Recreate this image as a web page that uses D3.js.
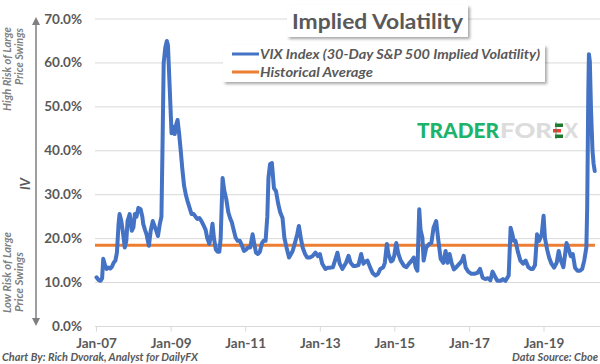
<!DOCTYPE html>
<html><head><meta charset="utf-8">
<script src="https://cdn.jsdelivr.net/npm/d3@7"></script>
<style>
html,body{margin:0;padding:0;background:#fff;}
svg{display:block;font-family:Lato,"Open Sans",sans-serif;}
</style></head>
<body><svg id="c" width="600" height="364"></svg>
<script>
const dates = ["2007-01-01","2007-01-20","2007-02-10","2007-02-25","2007-03-08","2007-03-25","2007-04-10","2007-04-28","2007-05-15","2007-06-01","2007-06-18","2007-07-05","2007-07-20","2007-08-05","2007-08-15","2007-09-01","2007-09-15","2007-10-05","2007-10-20","2007-11-01","2007-11-22","2007-12-12","2007-12-28",
"2008-01-12","2008-01-28","2008-02-15","2008-03-08","2008-03-25","2008-04-03","2008-04-20","2008-05-05","2008-05-28","2008-06-15","2008-07-05","2008-07-20","2008-08-08","2008-08-25","2008-09-12","2008-09-28","2008-10-08","2008-10-20","2008-11-05","2008-11-20","2008-12-01","2008-12-15",
"2009-01-05","2009-01-20","2009-02-05","2009-02-20","2009-03-05","2009-03-20","2009-04-05","2009-04-20","2009-05-08","2009-05-25","2009-06-10","2009-07-01","2009-07-20","2009-08-10","2009-08-28","2009-09-15","2009-10-05","2009-10-25","2009-11-15","2009-12-05","2009-12-20",
"2010-01-10","2010-01-28","2010-02-10","2010-02-25","2010-03-15","2010-04-01","2010-04-18","2010-05-01","2010-05-20","2010-06-05","2010-06-25","2010-07-15","2010-08-01","2010-08-20","2010-09-05","2010-09-25","2010-10-15","2010-11-05","2010-11-25","2010-12-15",
"2011-01-05","2011-01-25","2011-02-15","2011-03-10","2011-03-25","2011-04-12","2011-05-01","2011-05-20","2011-06-10","2011-06-25","2011-07-15","2011-08-01","2011-08-12","2011-08-28","2011-09-15","2011-10-05","2011-10-25","2011-11-15","2011-12-05","2011-12-28",
"2012-01-15","2012-02-05","2012-03-01","2012-03-20","2012-04-05","2012-04-25","2012-05-20","2012-06-05","2012-06-25","2012-07-12","2012-08-05","2012-08-25","2012-09-20","2012-10-15","2012-11-15","2012-12-10","2012-12-28",
"2013-01-20","2013-02-20","2013-03-15","2013-04-10","2013-05-05","2013-06-18","2013-07-10","2013-08-05","2013-09-10","2013-10-05","2013-10-25","2013-11-20","2013-12-15",
"2014-01-10","2014-02-05","2014-02-28","2014-03-20","2014-04-08","2014-05-05","2014-05-28","2014-06-25","2014-07-20","2014-08-12","2014-09-10","2014-09-25","2014-10-15","2014-10-30","2014-11-25","2014-12-10","2014-12-25",
"2015-01-15","2015-02-05","2015-02-28","2015-04-01","2015-04-25","2015-05-20","2015-06-15","2015-07-05","2015-07-25","2015-08-10","2015-08-28","2015-09-10","2015-09-28","2015-10-10","2015-11-05","2015-12-05","2015-12-25",
"2016-01-15","2016-02-10","2016-02-28","2016-03-25","2016-04-20","2016-05-12","2016-06-01","2016-06-20","2016-07-10","2016-08-01","2016-08-25","2016-09-25","2016-10-20","2016-11-05","2016-11-25","2016-12-20",
"2017-01-20","2017-02-20","2017-03-20","2017-04-15","2017-05-10","2017-06-05","2017-07-01","2017-07-25","2017-08-15","2017-09-05","2017-10-01","2017-11-01","2017-11-25","2017-12-20",
"2018-01-20","2018-02-08","2018-02-25","2018-03-10","2018-03-28","2018-04-20","2018-05-15","2018-06-10","2018-07-05","2018-08-01","2018-08-25","2018-09-15","2018-10-05","2018-10-25","2018-11-15","2018-12-10","2018-12-28",
"2019-01-10","2019-02-01","2019-02-20","2019-03-15","2019-04-10","2019-05-05","2019-05-25","2019-06-15","2019-07-10","2019-08-10","2019-09-01","2019-09-20","2019-10-10","2019-11-01","2019-11-25","2019-12-20",
"2020-01-10","2020-01-30","2020-02-20","2020-02-28","2020-03-10","2020-03-16","2020-03-25","2020-04-05","2020-04-20","2020-05-01","2020-05-12"];

const vix = [11.2,10.6,10.4,11.0,15.4,14.0,13.1,13.4,13.2,13.6,14.5,15.0,16.8,23.3,25.6,24.0,21.8,18.0,19.5,24.0,25.6,21.8,22.5,
25.6,25.0,27.0,26.7,25.0,23.3,22.0,21.0,18.4,21.8,24.0,23.0,21.8,20.6,23.3,25.0,40.0,60.0,63.5,65.0,64.0,56.0,
44.0,45.5,43.8,46.0,47.0,44.0,40.0,36.0,32.0,30.0,28.6,27.0,25.6,25.6,25.0,24.5,24.7,24.0,23.0,22.0,20.2,
18.8,21.0,23.4,20.0,17.5,17.0,17.0,20.0,33.8,31.0,29.0,26.0,24.7,23.6,22.0,20.2,19.5,19.5,18.5,17.2,
17.5,18.0,18.0,21.0,19.0,16.8,16.5,17.0,19.0,19.5,19.5,25.0,33.8,37.0,37.2,31.5,30.8,28.0,26.0,24.7,
20.2,18.0,15.7,16.5,17.2,18.8,21.0,22.9,20.0,18.0,16.5,15.7,15.7,16.0,16.8,16.0,16.5,
14.3,13.1,13.4,13.4,13.5,16.8,14.3,13.1,14.5,16.1,14.5,13.8,13.8,
14.0,16.5,14.3,14.8,15.0,13.4,12.2,11.6,12.0,13.1,13.5,14.5,18.8,16.5,14.8,15.0,16.0,
19.0,16.5,15.0,13.8,13.5,14.3,15.0,15.7,13.4,12.7,26.7,22.0,20.2,15.0,18.0,18.8,19.0,
22.5,24.0,20.2,15.4,14.5,17.2,14.5,16.5,14.5,13.0,13.5,14.3,15.0,16.1,13.4,12.5,
12.0,12.0,12.2,13.1,11.1,10.8,11.0,10.5,12.5,11.5,10.4,10.4,10.8,10.4,
11.6,22.5,21.0,19.5,19.5,17.0,15.0,14.3,15.0,13.5,13.1,13.1,14.0,21.0,19.5,21.0,25.2,
20.2,17.5,15.7,14.3,13.4,14.5,17.2,15.0,13.5,19.0,17.5,16.0,16.5,13.4,12.7,12.7,
13.1,15.0,18.0,27.0,53.5,62.0,60.3,49.7,40.0,37.0,35.4];

const historicalAverage = 18.5;
const yTicks = [0,10,20,30,40,50,60,70];
const xTickYears = ["2007","2009","2011","2013","2015","2017","2019"];

const parse = d3.timeParse("%Y-%m-%d");
const data = dates.map((d,i)=>({date:parse(d), v:vix[i]}));

const svg = d3.select("#c");
const x = d3.scaleTime().domain([parse("2007-01-01"), parse("2019-01-01")]).range([96.5, 544]);
const y = d3.scaleLinear().domain([0,70]).range([326.5, 19]);

const defs = svg.append("defs");
const f = defs.append("filter").attr("id","sh").attr("x","-10%").attr("y","-30%").attr("width","130%").attr("height","180%");
f.append("feDropShadow").attr("dx",2).attr("dy",2).attr("stdDeviation",1.6).attr("flood-color","#000").attr("flood-opacity",0.35);

// gridlines
svg.append("g").selectAll("line").data(yTicks.filter(t=>t>0)).join("line")
  .attr("x1",95).attr("x2",600).attr("y1",d=>y(d)).attr("y2",d=>y(d))
  .attr("stroke","#d9d9d9").attr("stroke-width",1);

// y axis labels
svg.append("g").selectAll("text").data(yTicks).join("text")
  .attr("x",82).attr("y",d=>y(d)+4.5).attr("text-anchor","end")
  .attr("font-size",13.5).attr("font-weight",700).attr("fill","#595959")
  .text(d=>d3.format(".1f")(d)+"%");

// x axis
const xa = svg.append("g").attr("transform",`translate(0,${y(0)})`);
xa.append("line").attr("x1",95).attr("x2",600).attr("stroke","#d9d9d9").attr("stroke-width",1);
const xt = xTickYears.map(yr=>parse(yr+"-01-01"));
xa.selectAll("line.t").data(xt).join("line").attr("class","t")
  .attr("x1",d=>x(d)).attr("x2",d=>x(d)).attr("y1",0).attr("y2",5)
  .attr("stroke","#d9d9d9");
xa.selectAll("text").data(xt).join("text")
  .attr("x",d=>x(d)).attr("y",21).attr("text-anchor","middle")
  .attr("font-size",13.5).attr("font-weight",700).attr("fill","#595959")
  .text(d=>d3.timeFormat("%b-%y")(d));

// historical average
svg.append("line").attr("x1",95).attr("x2",x(parse("2020-05-14")))
  .attr("y1",y(historicalAverage)).attr("y2",y(historicalAverage))
  .attr("stroke","#ed7d31").attr("stroke-width",3);

// VIX line
svg.append("path").datum(data)
  .attr("d",d3.line().x(d=>x(d.date)).y(d=>y(d.v)))
  .attr("fill","none").attr("stroke","#4472c4").attr("stroke-width",4)
  .attr("stroke-linejoin","round").attr("stroke-linecap","round");

// watermark
const wm = svg.append("g").attr("font-size",20).attr("font-weight",900).attr("font-family","Lato, sans-serif");
wm.append("text").attr("x",417).attr("y",138).attr("fill","#1db36b").attr("textLength",82).attr("lengthAdjust","spacingAndGlyphs").text("TRADER");
wm.append("text").attr("x",500).attr("y",138).attr("fill","#dcdcdc").attr("textLength",52).attr("lengthAdjust","spacingAndGlyphs").text("FOR");
wm.append("text").attr("x",564).attr("y",138).attr("fill","#dcdcdc").attr("textLength",14).attr("lengthAdjust","spacingAndGlyphs").text("X");
const ic = svg.append("g");
ic.append("rect").attr("x",555).attr("y",123.5).attr("width",8).attr("height",3.5).attr("fill","#1a7a2e");
ic.append("rect").attr("x",553).attr("y",129).attr("width",8).attr("height",3.5).attr("fill","#e8413a");
ic.append("rect").attr("x",555).attr("y",134.5).attr("width",8).attr("height",3.5).attr("fill","#1a7a2e");
ic.append("line").attr("x1",556).attr("x2",556).attr("y1",122).attr("y2",139).attr("stroke","#2a8a3e").attr("stroke-width",0.8);

// title box
svg.append("rect").attr("x",287).attr("y",5).attr("width",181).attr("height",32).attr("fill","#fff").attr("filter","url(#sh)");
svg.append("text").attr("x",377.5).attr("y",29).attr("text-anchor","middle")
  .attr("font-size",21).attr("font-weight",700).attr("fill","#595959")
  .attr("textLength",171).attr("lengthAdjust","spacingAndGlyphs").text("Implied Volatility");

// legend box
svg.append("rect").attr("x",223).attr("y",45).attr("width",322).attr("height",37).attr("fill","#fff").attr("filter","url(#sh)");
const lg = svg.append("g").attr("font-size",12.5).attr("font-style","italic").attr("font-weight",700).attr("fill","#595959");
lg.append("line").attr("x1",232).attr("x2",259).attr("y1",54).attr("y2",54).attr("stroke","#4472c4").attr("stroke-width",3);
lg.append("line").attr("x1",232).attr("x2",259).attr("y1",72).attr("y2",72).attr("stroke","#ed7d31").attr("stroke-width",3);
lg.append("text").attr("x",260).attr("y",58.5).attr("textLength",280).attr("lengthAdjust","spacingAndGlyphs").text("VIX Index (30-Day S&P 500 Implied Volatility)");
lg.append("text").attr("x",260).attr("y",76.5).attr("textLength",113).attr("lengthAdjust","spacingAndGlyphs").text("Historical Average");

// left annotation arrow
const ag = svg.append("g").attr("fill","#7f7f7f").attr("stroke","#7f7f7f");
ag.append("line").attr("x1",36).attr("x2",36).attr("y1",24).attr("y2",320).attr("stroke-width",1.5);
ag.append("path").attr("d","M32,25 L36,17 L40,25 Z").attr("stroke","none");
ag.append("path").attr("d","M32,318 L36,326 L40,318 Z").attr("stroke","none");

const ann = svg.append("g").attr("font-size",10.5).attr("font-style","italic").attr("font-weight",700).attr("fill","#7f7f7f");
function rot(txt,xx,yy,anchor,len){
  const t = ann.append("text").attr("transform",`translate(${xx},${yy}) rotate(-90)`).attr("text-anchor",anchor).text(txt);
  if(len) t.attr("textLength",len).attr("lengthAdjust","spacingAndGlyphs");
}
rot("High Risk of Large",10.5,27,"end",84);
rot("Price Swings",23,28,"end",57);
rot("Low Risk of Large",10.5,313,"start",81);
rot("Price Swings",23,312,"start",60);
svg.append("text").attr("transform","translate(30,184) rotate(-90)").attr("text-anchor","middle")
  .attr("font-size",13).attr("font-style","italic").attr("font-weight",700).attr("fill","#595959").text("IV");

// footer
svg.append("text").attr("x",2).attr("y",361).attr("font-size",10.5).attr("font-style","italic").attr("font-weight",700).attr("fill","#595959")
  .attr("textLength",196).attr("lengthAdjust","spacingAndGlyphs").text("Chart By: Rich Dvorak, Analyst for DailyFX");
svg.append("text").attr("x",598).attr("y",361).attr("text-anchor","end").attr("font-size",10.5).attr("font-style","italic").attr("font-weight",700).attr("fill","#595959")
  .attr("textLength",86).attr("lengthAdjust","spacingAndGlyphs").text("Data Source: Cboe");
</script></body></html>
